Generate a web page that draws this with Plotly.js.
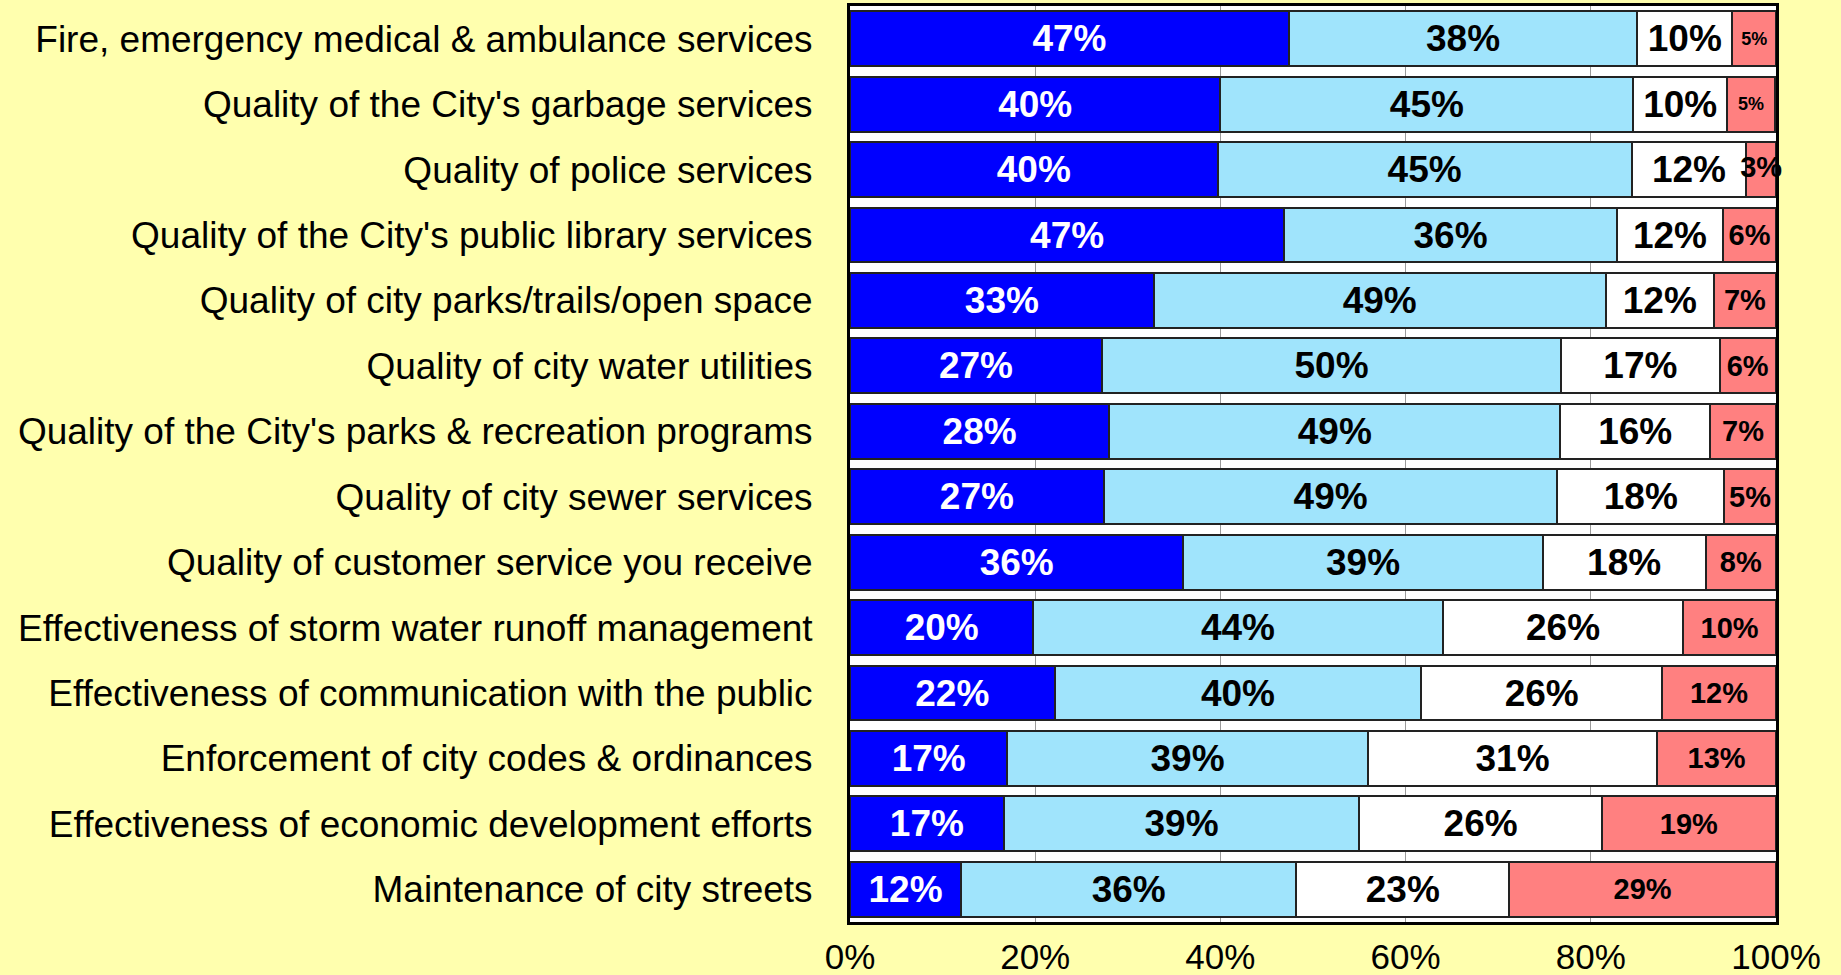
<!DOCTYPE html>
<html>
<head>
<meta charset="utf-8">
<script src="https://cdn.plot.ly/plotly-3.0.1.min.js"></script>
<style>
  html, body { margin: 0; padding: 0; background: #FFFFAE; }
  #chart { width: 1841px; height: 975px; }
</style>
</head>
<body>
<div id="chart"></div>
<script>
// ---- Data ----
var categories = [
  "Fire, emergency medical & ambulance services",
  "Quality of the City's garbage services",
  "Quality of police services",
  "Quality of the City's public library services",
  "Quality of city parks/trails/open space",
  "Quality of city water utilities",
  "Quality of the City's parks & recreation programs",
  "Quality of city sewer services",
  "Quality of customer service you receive",
  "Effectiveness of storm water runoff management",
  "Effectiveness of communication with the public",
  "Enforcement of city codes & ordinances",
  "Effectiveness of economic development efforts",
  "Maintenance of city streets"
];

// bar lengths (percent)
var verySatisfied = [47.4, 40.0, 39.7, 46.9, 32.8, 27.2, 28.0, 27.4, 36.0, 19.8, 22.1, 17.0, 16.6, 12.0];
var satisfied     = [37.6, 44.6, 44.7, 35.9, 48.8, 49.6, 48.7, 49.0, 38.8, 44.2, 39.6, 38.9, 38.4, 36.2];
var neutral       = [10.3, 10.1, 12.4, 11.5, 11.7, 17.1, 16.2, 18.0, 17.6, 26.0, 26.0, 31.3, 26.2, 23.0];
var dissatisfied  = [ 4.7,  5.2,  3.2,  5.7,  6.7,  6.1,  7.1,  5.6,  7.6, 10.0, 12.3, 12.8, 18.8, 28.8];

// printed labels (percent)
var verySatisfiedLabels = [47, 40, 40, 47, 33, 27, 28, 27, 36, 20, 22, 17, 17, 12];
var satisfiedLabels     = [38, 45, 45, 36, 49, 50, 49, 49, 39, 44, 40, 39, 39, 36];
var neutralLabels       = [10, 10, 12, 12, 12, 17, 16, 18, 18, 26, 26, 31, 26, 23];
var dissatisfiedLabels  = [ 5,  5,  3,  6,  7,  6,  7,  5,  8, 10, 12, 13, 19, 29];

var xTickValues = [0, 20, 40, 60, 80, 100];
var xTickLabels = ["0%", "20%", "40%", "60%", "80%", "100%"];

// ---- Styles ----
var FONT = "Liberation Sans, Arial, Helvetica, sans-serif";
var redLabelSizes = dissatisfied.map(function (v, i) { return (i < 2) ? 18 : 29; });
var MIN_INSIDE = 4; // segments narrower than this get their label drawn over the edge

function pct(arr) { return arr.map(function (v) { return v + "%"; }); }

function makeTrace(values, labels, color, textColor, size, positions) {
  return {
    type: "bar",
    orientation: "h",
    y: categories,
    x: values,
    text: pct(labels),
    textposition: positions || "inside",
    insidetextanchor: "middle",
    textangle: 0,
    constraintext: "none",
    cliponaxis: false,
    textfont: { family: FONT, size: size, color: textColor, weight: "bold" },
    marker: { color: color, line: { color: "#222222", width: 2 } },
    hoverinfo: "none",
    showlegend: false
  };
}

var redPositions = dissatisfied.map(function (v) { return v < MIN_INSIDE ? "none" : "inside"; });
// overflow labels for segments too narrow to hold them
var redCentres = dissatisfied.map(function (v, i) {
  return verySatisfied[i] + satisfied[i] + neutral[i] + v / 2;
});
var overflowText = dissatisfiedLabels.map(function (l, i) {
  return dissatisfied[i] < MIN_INSIDE ? l + "%" : "";
});

var data = [
  makeTrace(verySatisfied, verySatisfiedLabels, "#0000FF", "#FFFFFF", 37),
  makeTrace(satisfied, satisfiedLabels, "#A0E4FC", "#000000", 37),
  makeTrace(neutral, neutralLabels, "#FFFFFF", "#000000", 37),
  makeTrace(dissatisfied, dissatisfiedLabels, "#FF8080", "#000000", redLabelSizes, redPositions),
  {
    type: "scatter",
    mode: "text",
    x: redCentres,
    y: categories,
    text: overflowText,
    textposition: "middle center",
    textfont: { family: FONT, size: redLabelSizes, color: "#000000", weight: "bold" },
    cliponaxis: false,
    hoverinfo: "none",
    showlegend: false
  }
];

var layout = {
  width: 1841,
  height: 975,
  paper_bgcolor: "#FFFFAE",
  plot_bgcolor: "#FFFFFF",
  margin: { l: 850, r: 65, t: 6, b: 53, pad: 0 },
  barmode: "stack",
  bargap: 0.16,
  showlegend: false,
  font: { family: FONT, color: "#000000" },
  xaxis: {
    range: [0, 100],
    autorange: false,
    tickvals: xTickValues,
    ticktext: xTickLabels,
    tickfont: { family: FONT, size: 35, color: "#000000" },
    showgrid: true,
    gridcolor: "#9A9A9A",
    gridwidth: 1,
    zeroline: false,
    showline: true,
    linecolor: "#000000",
    linewidth: 3,
    mirror: true,
    ticks: "",
    ticklabelstandoff: 2,
    fixedrange: true
  },
  yaxis: {
    type: "category",
    categoryorder: "array",
    categoryarray: categories,
    range: [categories.length - 0.5, -0.5],
    autorange: false,
    tickfont: { family: FONT, size: 37, color: "#000000" },
    showgrid: false,
    zeroline: false,
    showline: true,
    linecolor: "#000000",
    linewidth: 3,
    mirror: true,
    ticks: "",
    ticklabelstandoff: 27,
    fixedrange: true
  }
};

Plotly.newPlot("chart", data, layout, { displayModeBar: false, staticPlot: true });
</script>
</body>
</html>
